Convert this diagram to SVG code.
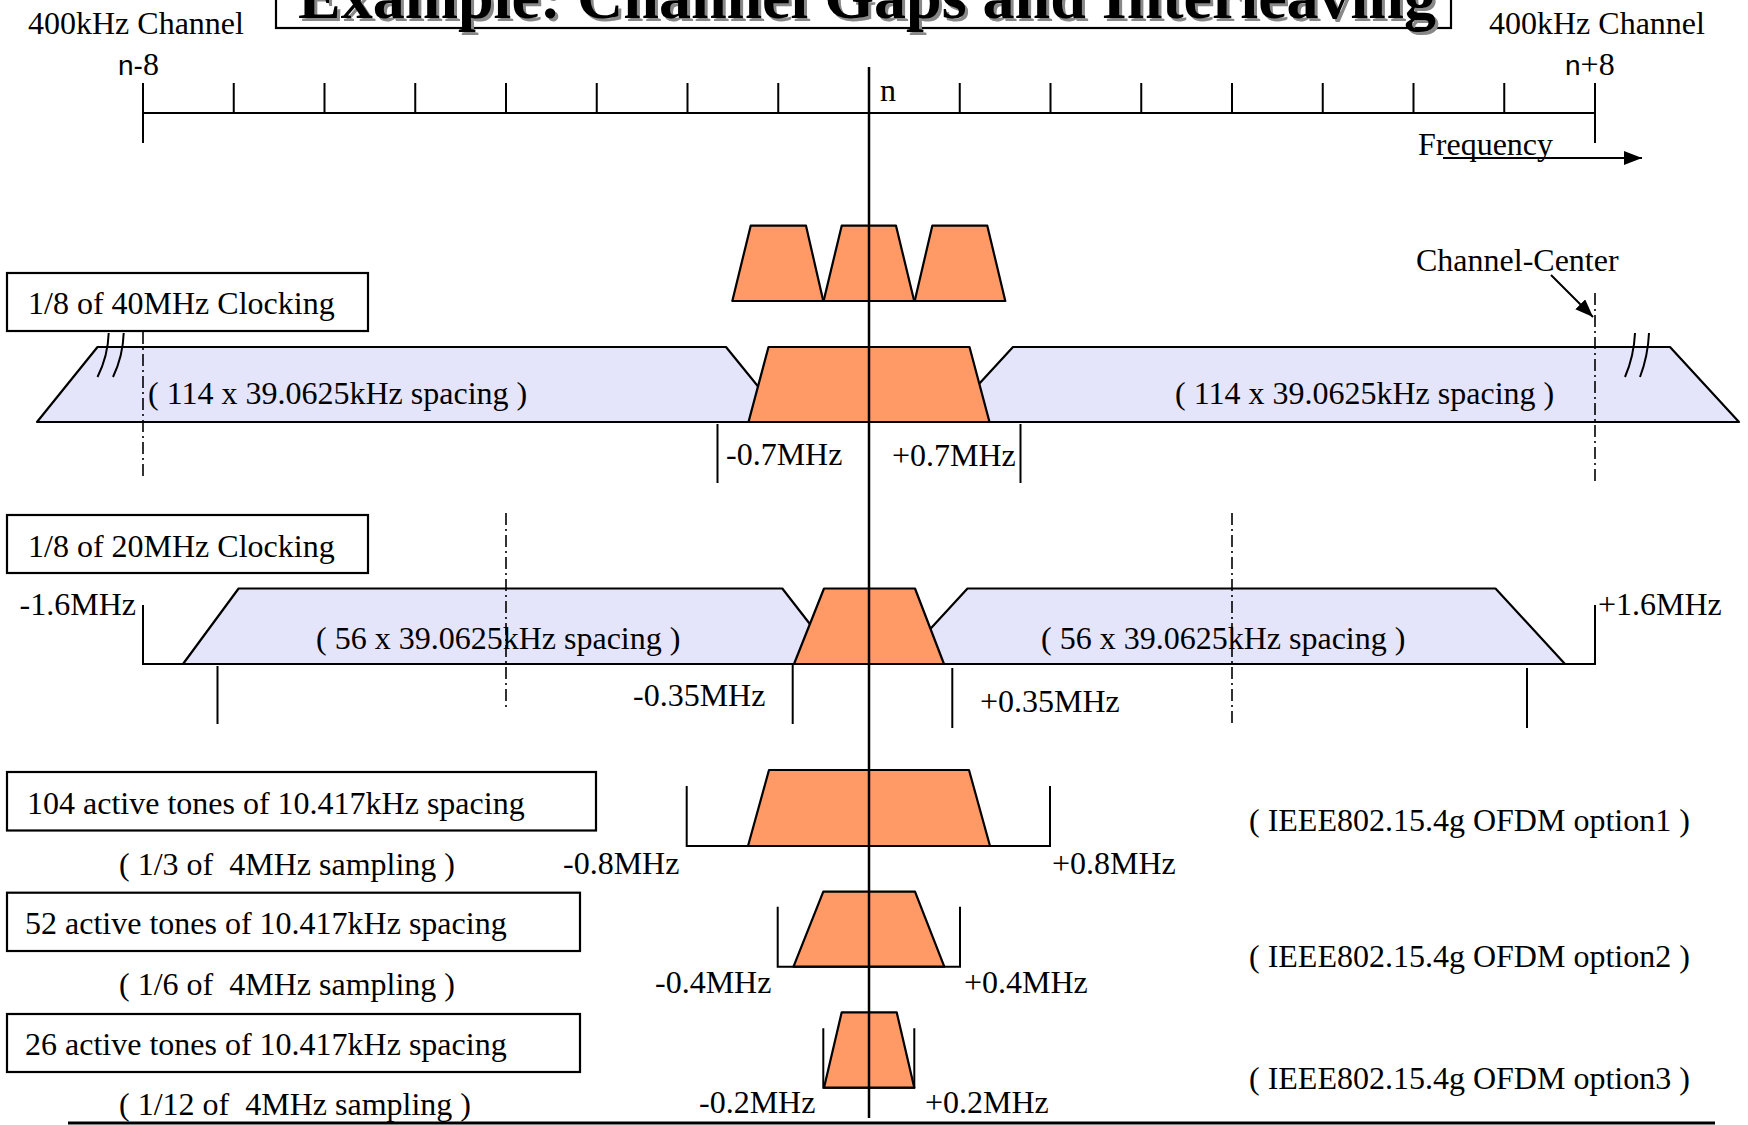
<svg xmlns="http://www.w3.org/2000/svg" width="1748" height="1125" viewBox="0 0 1748 1125">
<defs>
<style>
.t{font-family:"Liberation Serif","Times New Roman",serif;font-size:32px;fill:#000;white-space:pre}
.ts{font-family:"Liberation Sans",Arial,sans-serif}
.ln{stroke:#000;stroke-width:2;fill:none}
.dd{stroke:#000;stroke-width:1.6;fill:none;stroke-dasharray:12 4 2 4}
.org{fill:#FF9966;stroke:#000;stroke-width:2.2;stroke-linejoin:round}
.lav{fill:#E4E4FA;stroke:#000;stroke-width:2.2;stroke-linejoin:round}
.box{fill:#fff;stroke:#000;stroke-width:2.2}
.title{font-family:"Liberation Serif","Times New Roman",serif;font-size:64px;font-weight:bold}
</style>
<marker id="ah" markerUnits="userSpaceOnUse" markerWidth="20" markerHeight="16" refX="18" refY="7" orient="auto">
<path d="M0,0 L18,7 L0,14 z" fill="#000"/>
</marker>
</defs>
<rect width="1748" height="1125" fill="#fff"/>

<g id="title">
<rect x="276" y="-10" width="1175" height="38" class="box"/>
<text x="301" y="21" class="title" fill="#888">Example: Channel Gaps and Interleaving</text>
<text x="298" y="18" class="title" fill="#000">Example: Channel Gaps and Interleaving</text>
</g>

<g id="ruler">
<line x1="143" y1="113" x2="1595" y2="113" class="ln"/>
<line x1="143" y1="83" x2="143" y2="143" class="ln"/>
<line x1="1595" y1="83" x2="1595" y2="143" class="ln"/>
<path class="ln" d="M233.75,83V113 M324.5,83V113 M415.25,83V113 M506,83V113 M596.75,83V113 M687.5,83V113 M778.25,83V113 M959.75,83V113 M1050.5,83V113 M1141.25,83V113 M1232,83V113 M1322.75,83V113 M1413.5,83V113 M1504.25,83V113"/>
<text x="28" y="34" class="t">400kHz Channel</text>
<text x="1489" y="34" class="t">400kHz Channel</text>
<text x="118" y="75" class="t"><tspan class="ts" font-size="28">n-</tspan>8</text>
<text x="1565" y="75" class="t"><tspan class="ts" font-size="28">n</tspan>+8</text>
<text x="880" y="101" class="t">n</text>
<text x="1418" y="155" class="t">Frequency</text>
</g>

<g id="row1">
<polygon class="lav" points="37,422 97.5,347 726,347 787,422"/>
<polygon class="lav" points="944,422 1013,347 1670,347 1739,422"/>
<polygon class="org" points="732.3,301 750.7,225.7 806,225.7 823.3,301"/>
<polygon class="org" points="823.6,301 841.7,225.7 896,225.7 914.2,301"/>
<polygon class="org" points="914.7,301 932.3,225.7 987.3,225.7 1005.3,301"/>
<polygon class="org" points="748.5,422 768.5,347 969.5,347 989.5,422"/>
<path class="ln" d="M108.7,333 Q108,356 97.5,377 M123.7,333 Q123,356 113,377"/>
<path class="ln" d="M1635,333 Q1634,356 1625,377 M1649,333 Q1648,356 1640,377"/>
<line x1="143" y1="332" x2="143" y2="478" class="dd"/>
<line x1="1595" y1="293" x2="1595" y2="482" class="dd"/>
<line x1="717.5" y1="424" x2="717.5" y2="483" class="ln"/>
<line x1="1020.5" y1="424" x2="1020.5" y2="483" class="ln"/>
<rect x="7" y="273" width="361" height="58" class="box"/>
<text x="28" y="314" class="t">1/8 of 40MHz Clocking</text>
<text x="148" y="404" class="t">( 114 x 39.0625kHz spacing )</text>
<text x="1175" y="404" class="t">( 114 x 39.0625kHz spacing )</text>
<text x="726" y="465" class="t">-0.7MHz</text>
<text x="892" y="466" class="t">+0.7MHz</text>
<text x="1416" y="271" class="t">Channel-Center</text>
</g>

<g id="row2">
<polyline class="ln" points="143,605 143,664 183,664"/>
<polyline class="ln" points="1565,664 1595,664 1595,605"/>
<polygon class="lav" points="183,664 238.6,588.5 782.3,588.5 841,664"/>
<polygon class="lav" points="898,664 967.5,588.5 1495.5,588.5 1565,664"/>
<polygon class="org" points="794,664 824,588.5 915,588.5 944,664"/>
<line x1="506" y1="513" x2="506" y2="710" class="dd"/>
<line x1="1232" y1="513" x2="1232" y2="725" class="dd"/>
<line x1="217.5" y1="666" x2="217.5" y2="724" class="ln"/>
<line x1="792.7" y1="665" x2="792.7" y2="724" class="ln"/>
<line x1="952.3" y1="668" x2="952.3" y2="728" class="ln"/>
<line x1="1527" y1="668" x2="1527" y2="728" class="ln"/>
<rect x="7" y="515" width="361" height="58" class="box"/>
<text x="28" y="557" class="t">1/8 of 20MHz Clocking</text>
<text x="136" y="615" class="t" text-anchor="end">-1.6MHz</text>
<text x="1598" y="615" class="t">+1.6MHz</text>
<text x="316" y="649" class="t">( 56 x 39.0625kHz spacing )</text>
<text x="1041" y="649" class="t">( 56 x 39.0625kHz spacing )</text>
<text x="633" y="706" class="t">-0.35MHz</text>
<text x="980" y="712" class="t">+0.35MHz</text>
</g>

<g id="option1">
<polyline class="ln" points="686.7,786 686.7,846 1050,846 1050,786"/>
<polygon class="org" points="748,846 769,770 969,770 990,846"/>
<rect x="7" y="772" width="589" height="58.5" class="box"/>
<text x="27" y="814" class="t">104 active tones of 10.417kHz spacing</text>
<text x="119" y="875" class="t">( 1/3 of  4MHz sampling )</text>
<text x="563" y="874" class="t">-0.8MHz</text>
<text x="1052" y="874" class="t">+0.8MHz</text>
<text x="1249" y="831" class="t">( IEEE802.15.4g OFDM option1 )</text>
</g>

<g id="option2">
<polyline class="ln" points="777.7,906.7 777.7,966.7 960,966.7 960,906.7"/>
<polygon class="org" points="793.5,966.7 823.3,891.7 915,891.7 944.3,966.7"/>
<rect x="7" y="892.7" width="573" height="58.3" class="box"/>
<text x="25" y="934" class="t">52 active tones of 10.417kHz spacing</text>
<text x="119" y="995" class="t">( 1/6 of  4MHz sampling )</text>
<text x="655" y="993" class="t">-0.4MHz</text>
<text x="964" y="993" class="t">+0.4MHz</text>
<text x="1249" y="967" class="t">( IEEE802.15.4g OFDM option2 )</text>
</g>

<g id="option3">
<polyline class="ln" points="823.3,1028.3 823.3,1087.7 914.3,1087.7 914.3,1028.3"/>
<polygon class="org" points="824,1087.7 841.7,1012.3 896.7,1012.3 914.3,1087.7"/>
<rect x="7" y="1014" width="573" height="58" class="box"/>
<text x="25" y="1055" class="t">26 active tones of 10.417kHz spacing</text>
<text x="119" y="1115" class="t">( 1/12 of  4MHz sampling )</text>
<text x="699" y="1113" class="t">-0.2MHz</text>
<text x="925" y="1113" class="t">+0.2MHz</text>
<text x="1249" y="1089" class="t">( IEEE802.15.4g OFDM option3 )</text>
</g>

<g id="axes">
<line x1="869" y1="67" x2="869" y2="1118" stroke="#000" stroke-width="2.5"/>
<line x1="68" y1="1123" x2="1715" y2="1123" stroke="#000" stroke-width="3"/>
</g>

<g id="connectors">
<line x1="1443" y1="158" x2="1642" y2="158" class="ln" marker-end="url(#ah)"/>
<line x1="1551" y1="275" x2="1593" y2="317" class="ln" marker-end="url(#ah)"/>
</g>
</svg>
